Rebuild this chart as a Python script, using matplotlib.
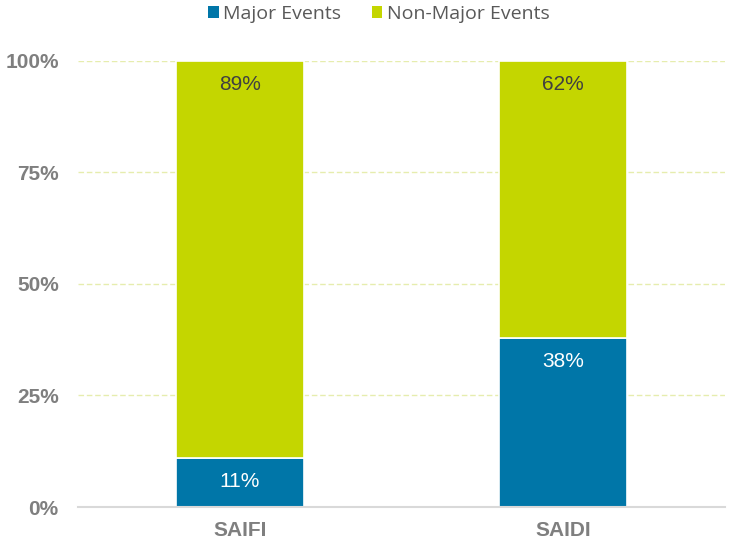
import numpy as np
import matplotlib
matplotlib.use("Agg")
import matplotlib.pyplot as plt
from matplotlib.patches import Patch
from matplotlib.transforms import offset_copy

categories = ["SAIFI", "SAIDI"]
major = [11, 38]
non_major = [89, 62]
series_names = ["Major Events", "Non-Major Events"]
yticks = [0, 25, 50, 75, 100]

blue = "#0076a8"
green = "#c4d600"
grey = "#7f7f7f"

plt.rcParams['font.family'] = ['Liberation Sans', 'DejaVu Sans']

fig = plt.figure(figsize=(7.3, 5.48), dpi=100)
ax = fig.add_axes([0.107, 0.0748, 0.886, 0.814])

x = np.arange(len(categories))
w = 0.396
b1 = ax.bar(x, major, w, color=blue, edgecolor="white", linewidth=1.2, zorder=3)
b2 = ax.bar(x, non_major, w, bottom=major, color=green, edgecolor="white",
            linewidth=1.2, zorder=3)

# labels inside the top of each segment
t1 = offset_copy(ax.transData, fig=fig, x=0, y=-24, units='dots')
for i in range(len(categories)):
    top1 = major[i]
    top2 = major[i] + non_major[i]
    ax.text(x[i], top1, f"{major[i]}%", transform=t1, ha='center', va='center',
            color='white', fontsize=15, zorder=4)
    ax.text(x[i], top2, f"{non_major[i]}%", transform=t1, ha='center', va='center',
            color='#404040', fontsize=15, zorder=4)

ax.set_xlim(-0.5, 1.5)
ax.set_ylim(0, 100)
ax.set_yticks(yticks)
ax.set_yticklabels([f"{v}%" for v in yticks])
ax.set_xticks(x)
ax.set_xticklabels(categories)
for lbl in ax.get_yticklabels() + ax.get_xticklabels():
    lbl.set_fontweight('bold')
    lbl.set_color(grey)
    lbl.set_fontsize(15)

ax.tick_params(axis='both', length=0)
ax.tick_params(axis='y', pad=14)
ax.tick_params(axis='x', pad=10)
ax.grid(axis='y', color='#e6edae', linestyle=(0, (4, 2)), linewidth=1, zorder=0)
for s in ['top', 'right', 'left']:
    ax.spines[s].set_visible(False)
ax.spines['bottom'].set_color('#d9d9d9')
ax.spines['bottom'].set_linewidth(1.5)
ax.spines['bottom'].set_zorder(5)

handles = [Patch(facecolor=blue), Patch(facecolor=green)]
fig.legend(handles, series_names, loc='center', bbox_to_anchor=(0.519, 0.975),
           ncol=2, frameon=False, prop={'family': 'Open Sans', 'size': 14},
           handlelength=0.55, handleheight=0.55, handletextpad=0.25,
           columnspacing=1.55, labelcolor='#595959')

fig.savefig("out.png", dpi=100)
